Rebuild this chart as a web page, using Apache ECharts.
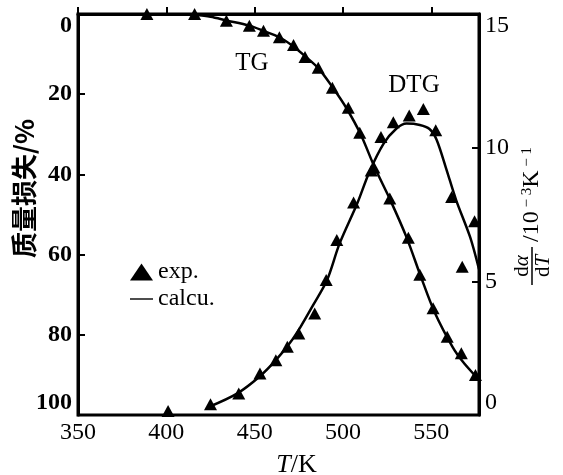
<!DOCTYPE html>
<html>
<head>
<meta charset="utf-8">
<script src="https://cdn.jsdelivr.net/npm/echarts@6/dist/echarts.min.js"></script>
<style>
  html, body { margin: 0; padding: 0; background: #fff; }
  #chart { width: 563px; height: 475px; }
</style>
</head>
<body>
<div id="chart"></div>
<script>
const SERIF = '"Liberation Serif", "DejaVu Serif", serif';

// TG: 质量损失 (%) vs T (K), 左轴
const tgExpT    = [389, 416, 434, 447, 455, 464, 472, 478.5, 486, 494, 503, 509.5, 517.5, 526.5, 537, 543.5, 551, 559, 567, 575];
const tgExpLoss = [0, 0, 1.7, 2.9, 4.2, 5.8, 7.7, 10.7, 13.4, 18.4, 23.4, 29.6, 38.3, 46, 55.8, 65, 73.4, 80.5, 84.6, 90];
const tgCalcT    = [416, 425, 434, 447, 455, 464, 471, 478.5, 486, 494, 502, 510, 518, 527, 536, 544.5, 552, 562, 568, 575, 577];
const tgCalcLoss = [0.2, 0.7, 1.6, 2.9, 4.2, 5.8, 7.8, 10.5, 13.5, 18.2, 23.5, 30, 38.3, 46.6, 55.7, 66, 74.5, 83, 86.8, 90.3, 91.3];

// DTG: dα/dT (10^-3 K^-1), 우측 보조축
const dtgExpT = [401, 425, 441, 453, 462, 468.5, 475, 484, 490.5, 496.5, 506, 516, 521.5, 528.5, 537.5, 545.5, 552.5, 561.5, 567.5, 574.5];
const dtgExpV = [0.15, 0.4, 0.8, 1.55, 2.05, 2.55, 3.05, 3.8, 5.05, 6.55, 7.95, 9.15, 10.4, 10.95, 11.2, 11.45, 10.65, 8.15, 5.55, 7.25];
const dtgCalcT = [424, 440, 453, 462, 470, 476, 483, 491, 498, 508, 515, 523, 530, 536, 543.5, 549, 553, 558.5, 564, 572, 577];
const dtgCalcV = [0.3, 0.8, 1.45, 2.05, 2.7, 3.3, 4.1, 5.05, 6.4, 7.9, 9.1, 10.15, 10.7, 10.9, 10.85, 10.7, 10.3, 9.2, 8.05, 6.65, 5.45];

const X_TICKS = [350, 400, 450, 500, 550];
const LEFT_TICKS = [0, 20, 40, 60, 80, 100];
const RIGHT_TICKS = [0, 5, 10, 15];

const zip = (xs, ys) => xs.map((x, i) => [x, ys[i]]);

const chart = echarts.init(document.getElementById("chart"));

const tickStyle = { show: true, inside: true, length: 7, lineStyle: { color: "#000", width: 2 } };
const lineStyle = { color: "#000", width: 3 };
// 범례용 가는 실선 아이콘 (위아래 빈 점으로 박스 높이를 맞춰 늘어나지 않게)
const THIN_LINE_ICON = "path://M0,0L0,0M0,7.8L23,7.8L23,9.2L0,9.2ZM0,17L0,17";

chart.setOption({
  animation: false,
  grid: {
    left: 78, right: 84, top: 14, bottom: 60, outerBoundsMode: "none",
    show: true, borderColor: "#000", borderWidth: 3,
  },
  legend: {
    left: 125, top: 255, orient: "vertical",
    itemWidth: 23, itemHeight: 17, itemGap: 3,
    textStyle: { fontFamily: SERIF, fontSize: 24, color: "#000" },
    data: [
      { name: "exp.", icon: "triangle", itemStyle: { color: "#000", opacity: 1 } },
      { name: "calcu.", icon: THIN_LINE_ICON, itemStyle: { color: "#000", opacity: 1 } },
    ],
  },
  xAxis: {
    type: "value", min: 350, max: 577, interval: 50,
    axisLine: { lineStyle }, axisTick: tickStyle, splitLine: { show: false },
    axisLabel: {
      showMaxLabel: false, margin: 6, color: "#000", fontFamily: SERIF, fontSize: 24,
      formatter: v => X_TICKS.includes(v) ? String(v) : "",
    },
    name: "{i|T}/K", nameLocation: "middle", nameGap: 37,
    nameTextStyle: {
      fontFamily: SERIF, fontSize: 26, color: "#000", padding: [0, 0, 0, 36],
      rich: { i: { fontFamily: SERIF, fontSize: 26, fontStyle: "italic", color: "#000" } },
    },
  },
  yAxis: [
    {
      type: "value", position: "left", inverse: true, min: 0, max: 100, interval: 20,
      axisLine: { show: true, lineStyle }, axisTick: tickStyle, splitLine: { show: false },
      axisLabel: {
        margin: 6, color: "#000", fontFamily: SERIF, fontSize: 24, fontWeight: "bold",
        verticalAlignMinLabel: "top", verticalAlignMaxLabel: "bottom",
        formatter: v => LEFT_TICKS.includes(v) ? String(v) : "",
      },
      name: "质量损失/%", nameLocation: "middle", nameRotate: 90, nameGap: 41,
      nameMoveOverlap: false,
      nameTextStyle: {
        fontFamily: '"Noto Sans CJK SC", sans-serif', fontWeight: "bold", fontSize: 26,
        color: "#000", padding: [0, 0, 0, 52],
      },
    },
    {
      type: "value", position: "right", min: 0, max: 15, interval: 5,
      axisLine: { show: true, lineStyle }, axisTick: tickStyle, splitLine: { show: false },
      axisLabel: {
        margin: 6, color: "#000", fontFamily: SERIF, fontSize: 24,
        verticalAlignMinLabel: "bottom", verticalAlignMaxLabel: "top",
        formatter: v => RIGHT_TICKS.includes(v) ? String(v) : "",
      },
    },
  ],
  graphic: [
    { type: "text", x: 252, y: 63, style: { text: "TG", font: `25px ${SERIF}`, fill: "#000", textAlign: "center", textVerticalAlign: "middle" } },
    { type: "text", x: 414, y: 85, style: { text: "DTG", font: `25px ${SERIF}`, fill: "#000", textAlign: "center", textVerticalAlign: "middle" } },
    // 우축 제목: dα/dT (분수) /10^-3 K^-1, 아래→위로 읽히게 90° 회전
    {
      type: "group", x: 532, y: 288, rotation: Math.PI / 2,
      children: [
        { type: "text", x: 22, y: -10, style: { text: "d{i|α}", font: `21px ${SERIF}`, fill: "#000", textAlign: "center", textVerticalAlign: "middle",
          rich: { i: { fontStyle: "italic", fontFamily: SERIF, fontSize: 21 } } } },
        { type: "line", shape: { x1: 3, y1: 0, x2: 41, y2: 0 }, style: { stroke: "#000", lineWidth: 1.5 } },
        { type: "text", x: 22, y: 11, style: { text: "d{i|T}", font: `21px ${SERIF}`, fill: "#000", textAlign: "center", textVerticalAlign: "middle",
          rich: { i: { fontStyle: "italic", fontFamily: SERIF, fontSize: 21 } } } },
        { type: "text", x: 46, y: 0, style: { text: "/10{s| − 3}K{s| − 1}", font: `24px ${SERIF}`, fill: "#000", textAlign: "left", textVerticalAlign: "middle",
          rich: { s: { fontFamily: SERIF, fontSize: 15, verticalAlign: "top" } } } },
      ],
    },
  ],
  series: [
    {
      name: "calcu.", type: "line", yAxisIndex: 0, smooth: 0.3, symbol: "none",
      lineStyle: { color: "#000", width: 2.5 }, itemStyle: { color: "#000" },
      data: zip(tgCalcT, tgCalcLoss),
    },
    {
      name: "calcu.", type: "line", yAxisIndex: 1, smooth: 0.3, symbol: "none",
      lineStyle: { color: "#000", width: 2.5 }, itemStyle: { color: "#000" },
      data: zip(dtgCalcT, dtgCalcV),
    },
    {
      name: "exp.", type: "scatter", yAxisIndex: 0, symbol: "triangle", symbolSize: [13, 12],
      itemStyle: { color: "#000", opacity: 1 }, data: zip(tgExpT, tgExpLoss),
    },
    {
      name: "exp.", type: "scatter", yAxisIndex: 1, symbol: "triangle", symbolSize: [13, 12],
      itemStyle: { color: "#000", opacity: 1 }, data: zip(dtgExpT, dtgExpV),
    },
  ],
});
</script>
</body>
</html>
